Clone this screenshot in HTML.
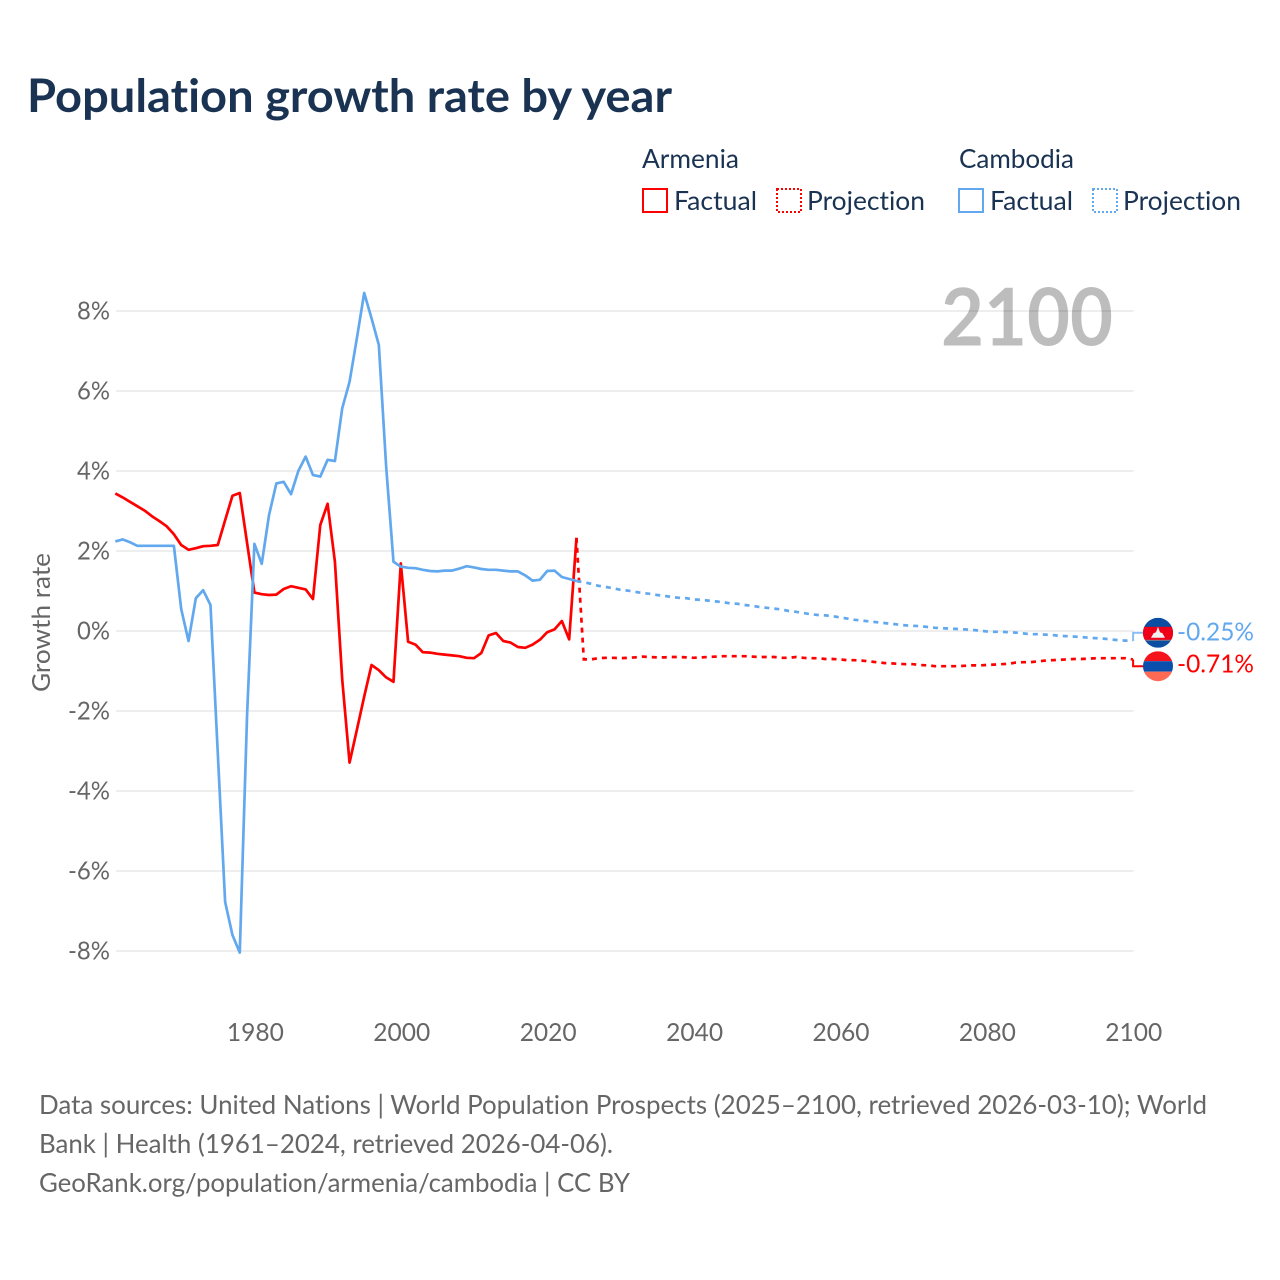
<!DOCTYPE html>
<html lang="en">
<head>
<meta charset="utf-8">
<title>Population growth rate by year</title>
<style>
html,body{margin:0;padding:0;background:#fff;width:1280px;height:1280px;overflow:hidden}
svg{display:block}
text{font-family:"Lato","Carlito","Liberation Sans",sans-serif;font-variant-ligatures:none}
</style>
</head>
<body>
<svg id="chart" xmlns="http://www.w3.org/2000/svg" width="1280" height="1280" viewBox="0 0 1280 1280">
  <rect x="0" y="0" width="1280" height="1280" fill="#fff"/>
  <text x="27" y="112" font-size="46" font-weight="700" fill="#1a3353" textLength="645" lengthAdjust="spacingAndGlyphs">Population growth rate by year</text>

  <g font-size="26" fill="#1a3353">
    <text x="642" y="168" textLength="97" lengthAdjust="spacingAndGlyphs">Armenia</text>
    <text x="959" y="168" textLength="115" lengthAdjust="spacingAndGlyphs">Cambodia</text>
    <rect x="643" y="189" width="24" height="23" fill="none" stroke="#ff0000" stroke-width="2"/>
    <text x="674" y="210" textLength="83" lengthAdjust="spacingAndGlyphs">Factual</text>
    <rect x="777" y="189" width="24" height="23" fill="none" stroke="#ff0000" stroke-width="2" stroke-dasharray="2 2"/>
    <text x="807" y="210" textLength="118" lengthAdjust="spacingAndGlyphs">Projection</text>
    <rect x="959" y="189" width="24" height="23" fill="none" stroke="#62a8ee" stroke-width="2"/>
    <text x="990" y="210" textLength="83" lengthAdjust="spacingAndGlyphs">Factual</text>
    <rect x="1093" y="189" width="24" height="23" fill="none" stroke="#62a8ee" stroke-width="2" stroke-dasharray="2 2"/>
    <text x="1123" y="210" textLength="118" lengthAdjust="spacingAndGlyphs">Projection</text>
  </g>

  <g id="grid"></g>
  <g id="yticks"></g>
  <g id="xticks"></g>
  <text transform="translate(50,622.5) rotate(-90)" text-anchor="middle" font-size="25" fill="#666" textLength="139" lengthAdjust="spacingAndGlyphs">Growth rate</text>
  <text x="941" y="345.5" font-size="80" font-weight="700" fill="#000" fill-opacity="0.26" textLength="172" lengthAdjust="spacingAndGlyphs">2100</text>

  <g id="series"></g>

  <g id="flag-cambodia">
    <clipPath id="clip-kh"><circle cx="0" cy="0" r="15"/></clipPath>
    <g clip-path="url(#clip-kh)">
      <rect x="-15" y="-15" width="30" height="30" fill="#0b4ea2"/>
      <rect x="-15" y="-6" width="30" height="13.3" fill="#f00018"/>
      <polygon points="-7,5 -4.5,0.5 -2,-0.5 0,-6 2,-0.5 4.5,0.5 7,5" fill="#f0f0f0"/>
      <rect x="-15" y="7" width="30" height="1" fill="#8a7a8a"/>
    </g>
  </g>
  <g id="flag-armenia">
    <clipPath id="clip-am"><circle cx="0" cy="0" r="15"/></clipPath>
    <g clip-path="url(#clip-am)">
      <rect x="-15" y="-15" width="30" height="10" fill="#f5141c"/>
      <rect x="-15" y="-5" width="30" height="10.5" fill="#0a4fae"/>
      <rect x="-15" y="5.5" width="30" height="10" fill="#ff6a55"/>
    </g>
  </g>

  <g font-size="26" fill="#666">
    <text x="39" y="1114" textLength="1168" lengthAdjust="spacingAndGlyphs">Data sources: United Nations | World Population Prospects (2025–2100, retrieved 2026-03-10); World</text>
    <text x="39" y="1153" textLength="574" lengthAdjust="spacingAndGlyphs">Bank | Health (1961–2024, retrieved 2026-04-06).</text>
    <text x="39" y="1192" textLength="591" lengthAdjust="spacingAndGlyphs">GeoRank.org/population/armenia/cambodia | CC BY</text>
  </g>
</svg>
<script>
const factualStartYear = 1961;
const projectionStartYear = 2025;
const armeniaFactual = [3.44,3.34,3.23,3.12,3.01,2.87,2.75,2.62,2.42,2.15,
  2.03,2.07,2.12,2.13,2.15,2.77,3.38,3.45,2.2,0.96,
  0.92,0.90,0.91,1.05,1.12,1.08,1.04,0.80,2.65,3.18,
  1.73,-1.22,-3.29,-2.47,-1.64,-0.85,-0.98,-1.16,-1.27,1.69,
  -0.27,-0.34,-0.53,-0.54,-0.57,-0.59,-0.61,-0.63,-0.67,-0.68,
  -0.55,-0.11,-0.05,-0.25,-0.29,-0.40,-0.42,-0.34,-0.22,-0.03,
  0.04,0.25,-0.21,2.33];
const cambodiaFactual = [2.24,2.29,2.22,2.13,2.13,2.13,2.13,2.13,2.13,0.55,
  -0.25,0.82,1.02,0.65,-3.06,-6.77,-7.6,-8.04,-2.1,2.18,
  1.68,2.9,3.69,3.73,3.42,4.0,4.36,3.9,3.86,4.28,
  4.25,5.57,6.23,7.32,8.45,7.82,7.15,4.11,1.73,1.61,
  1.58,1.57,1.53,1.50,1.49,1.51,1.51,1.56,1.62,1.59,
  1.55,1.53,1.53,1.51,1.49,1.49,1.39,1.26,1.28,1.50,
  1.51,1.35,1.30,1.25];
const armeniaProjection = [-0.71,-0.71,-0.68,-0.67,-0.67,-0.68,-0.67,-0.66,-0.64,-0.65,
  -0.66,-0.66,-0.65,-0.65,-0.66,-0.67,-0.66,-0.65,-0.64,-0.63,
  -0.63,-0.63,-0.63,-0.64,-0.65,-0.65,-0.65,-0.67,-0.67,-0.65,
  -0.67,-0.68,-0.68,-0.70,-0.70,-0.71,-0.73,-0.73,-0.74,-0.76,
  -0.78,-0.80,-0.81,-0.82,-0.83,-0.83,-0.85,-0.86,-0.88,-0.88,
  -0.88,-0.88,-0.87,-0.86,-0.86,-0.85,-0.84,-0.83,-0.82,-0.79,
  -0.78,-0.78,-0.76,-0.74,-0.73,-0.72,-0.71,-0.70,-0.70,-0.69,
  -0.68,-0.68,-0.68,-0.68,-0.68,-0.71];
const cambodiaProjection = [1.22,1.18,1.13,1.10,1.07,1.03,1.01,0.98,0.95,0.93,
  0.90,0.88,0.85,0.83,0.82,0.79,0.78,0.76,0.74,0.72,
  0.69,0.68,0.65,0.63,0.60,0.58,0.56,0.54,0.50,0.48,
  0.45,0.42,0.40,0.39,0.37,0.34,0.31,0.28,0.26,0.24,
  0.22,0.20,0.18,0.16,0.14,0.13,0.12,0.10,0.08,0.07,
  0.06,0.05,0.04,0.03,0.01,-0.01,-0.02,-0.02,-0.03,-0.04,
  -0.06,-0.08,-0.08,-0.09,-0.10,-0.12,-0.13,-0.14,-0.15,-0.17,
  -0.18,-0.19,-0.21,-0.23,-0.24,-0.25];
const xTickLabels = [1980,2000,2020,2040,2060,2080,2100];
const yTickLabels = [8,6,4,2,0,-2,-4,-6,-8];

const NS = 'http://www.w3.org/2000/svg';
const RED = '#ff0000';
const BLUE = '#62a8ee';
function xScale(year){ return 254.4 + (year - 1980) * 7.32; }
function yScale(value){ return 631 - value * 40; }
function make(tag, parent, attrs){
  const el = document.createElementNS(NS, tag);
  for (const k in attrs) el.setAttribute(k, attrs[k]);
  parent.appendChild(el);
  return el;
}
function pathFrom(startYear, values, prefix){
  let d = prefix || '';
  values.forEach(function(v, i){
    d += (d ? 'L' : 'M') + xScale(startYear + i).toFixed(2) + ' ' + yScale(v).toFixed(2);
  });
  return d;
}
const grid = document.getElementById('grid');
const yticks = document.getElementById('yticks');
const xticks = document.getElementById('xticks');
const series = document.getElementById('series');

yTickLabels.forEach(function(v){
  const line = make('line', grid, {x1:116, x2:1133.5, y1:yScale(v), y2:yScale(v), stroke:'#eeeeee', 'stroke-width':2});
  
  
  const label = v + '%';
  const t = make('text', yticks, {x:110, y:yScale(v) + 8.5, 'text-anchor':'end', 'font-size':25, fill:'#666', textLength:(v < 0 ? 42 : 33), lengthAdjust:'spacingAndGlyphs'});
  t.textContent = label;
  
  
});
xTickLabels.forEach(function(y){
  const t = make('text', xticks, {x:xScale(y) + 1, y:1041, 'text-anchor':'middle', 'font-size':25, fill:'#666', textLength:57, lengthAdjust:'spacingAndGlyphs'});
  t.textContent = y;
  
  
});

function drawSeries(name, color, factual, projection){
  const f = make('path', series, {d:pathFrom(factualStartYear, factual), fill:'none', stroke:color, 'stroke-width':2.7, 'stroke-linejoin':'round'});
  
  
  const lastYear = factualStartYear + factual.length - 1;
  const start = 'M' + xScale(lastYear).toFixed(2) + ' ' + yScale(factual[factual.length - 1]).toFixed(2);
  const p = make('path', series, {d:pathFrom(projectionStartYear, projection, start), fill:'none', stroke:color, 'stroke-width':2.7, 'stroke-dasharray':'5 5'});
  
  
}
drawSeries('armenia', RED, armeniaFactual, armeniaProjection);
drawSeries('cambodia', BLUE, cambodiaFactual, cambodiaProjection);

const endArmenia = armeniaProjection[armeniaProjection.length - 1];
const endCambodia = cambodiaProjection[cambodiaProjection.length - 1];
const yA = yScale(endArmenia), yC = yScale(endCambodia);
const mid = (yA + yC) / 2 - 0.7;
const upper = mid - 16.7, lower = mid + 16.7;
const armeniaOnTop = yA < yC;
const flagYArmenia = armeniaOnTop ? upper : lower;
const flagYCambodia = armeniaOnTop ? lower : upper;

function endMarker(name, color, flagId, yEnd, yFlag, value){
  const x0 = xScale(2100) + 0.3;
  const c = make('path', series, {d:'M' + x0 + ' ' + yEnd + 'L' + x0 + ' ' + yFlag + 'L1146 ' + yFlag, fill:'none', stroke:color, 'stroke-width':2, opacity:(name === 'cambodia' ? 0.75 : 1)});
  
  
  document.getElementById(flagId).setAttribute('transform', 'translate(1158,' + yFlag + ')');
  const t = make('text', series, {x:1177, y:yFlag + (name === 'armenia' ? 6.5 : 7.5), 'font-size':25, fill:color, textLength:77, lengthAdjust:'spacingAndGlyphs'});
  t.textContent = value.toFixed(2) + '%';
  
  
}
endMarker('armenia', RED, 'flag-armenia', yA, flagYArmenia, endArmenia);
endMarker('cambodia', BLUE, 'flag-cambodia', yC, flagYCambodia, endCambodia);
</script>
</body>
</html>
